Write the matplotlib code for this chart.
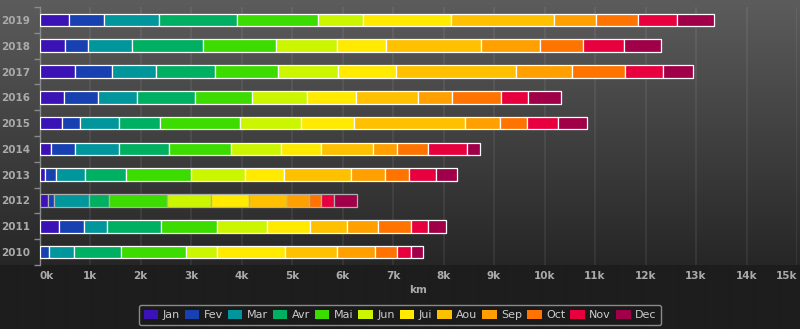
import matplotlib
matplotlib.use('Agg')
import matplotlib.pyplot as plt
import numpy as np
from matplotlib.patches import Patch

years = ['2010', '2011', '2012', '2013', '2014', '2015', '2016', '2017', '2018', '2019']
months = ['Jan', 'Fev', 'Mar', 'Avr', 'Mai', 'Jun', 'Jui', 'Aou', 'Sep', 'Oct', 'Nov', 'Dec']
colors = ['#3b12b5', '#1741b0', '#00969b', '#00b062', '#3cdc00', '#ccf600',
          '#ffea00', '#ffc000', '#ffa000', '#ff7400', '#e8003e', '#a00048']

km_2010 = [0, 194, 489, 930, 1280, 614, 1345, 1030, 764, 429, 291, 229]
km_2011 = [392, 483, 455, 1069, 1108, 989, 851, 733, 625, 661, 336, 349]
km_2012 = [174, 107, 705, 389, 1142, 883, 746, 758, 423, 238, 257, 475]
km_2013 = [109, 223, 574, 812, 1286, 1069, 760, 1326, 684, 475, 529, 421]
km_2014 = [222, 475, 876, 984, 1239, 989, 792, 1029, 469, 619, 772, 252]
km_2015 = [445, 362, 772, 812, 1583, 1195, 1055, 2211, 684, 542, 606, 574]
km_2016 = [479, 679, 777, 1148, 1128, 1083, 970, 1233, 672, 970, 542, 646]
km_2017 = [708, 727, 876, 1168, 1247, 1175, 1158, 2385, 1100, 1057, 744, 594]
km_2018 = [511, 455, 865, 1399, 1456, 1208, 963, 1894, 1160, 859, 803, 740]
km_2019 = [590, 692, 1089, 1538, 1597, 902, 1750, 2030, 839, 823, 766, 739]

x_ticks = list(range(0, 16000, 1000))
x_tick_labels = [f'{v // 1000}k' for v in x_ticks]

data = np.array([km_2010, km_2011, km_2012, km_2013, km_2014,
                 km_2015, km_2016, km_2017, km_2018, km_2019], dtype=float)

W, H = 800, 329
fig = plt.figure(figsize=(W / 100, H / 100), dpi=100)

# background gradient
bg = fig.add_axes([0, 0, 1, 1], zorder=-10)
top = np.array([0x5c, 0x5c, 0x5c]) / 255
bot = np.array([0x26, 0x26, 0x26]) / 255
img = np.zeros((H, 1, 3))
band = 265
for r in range(H):
    if r < band:
        t = r / band
        img[r, 0] = top * (1 - t) + bot * t
    else:
        img[r, 0] = np.array([0x1d, 0x1d, 0x1d]) / 255
bg.imshow(img, aspect='auto', extent=[0, 1, 0, 1], interpolation='bilinear')
bg.axis('off')

ax = fig.add_axes([39.5 / W, 1 - 265 / H, (797 - 39.5) / W, (265 - 7) / H])
ax.set_facecolor('none')

ypos = np.arange(len(years))
left = np.zeros(len(years))
for j, m in enumerate(months):
    vals = data[:, j]
    edgecols = ['#b0b0b0' if y == '2012' else 'white' for y in years]
    ax.barh(ypos, vals, left=left, height=0.49, color=colors[j],
            edgecolor=edgecols, linewidth=0.9, zorder=3)
    left += vals

ax.set_xlim(0, 15000)
ax.set_ylim(-0.5, len(years) - 0.5)
ax.set_yticks(ypos)
ax.set_yticklabels(years, fontsize=7.5, fontweight='bold', color='#aaaaaa')
ax.set_yticks(np.arange(-0.5, len(years), 1.0), minor=True)
ax.tick_params(axis='y', which='major', length=0, pad=7)
ax.tick_params(axis='y', which='minor', length=4, color='#8a8a8a', width=1)

ax.set_xticks(x_ticks)
ax.set_xticklabels(x_tick_labels, fontsize=7.5, fontweight='bold', color='#aaaaaa')
ax.tick_params(axis='x', length=0, pad=4)
lbls = ax.get_xticklabels()
lbls[-1].set_horizontalalignment('right')
lbls[0].set_horizontalalignment('left')
ax.grid(axis='x', color='#ffffff', alpha=0.08, linewidth=1.2, zorder=0)
ax.set_axisbelow(True)

for s in ['top', 'right', 'bottom']:
    ax.spines[s].set_visible(False)
ax.spines['left'].set_color('#8a8a8a')
ax.spines['left'].set_linewidth(1)

ax.set_xlabel('km', fontsize=7.5, fontweight='bold', color='#aaaaaa', labelpad=3)

handles = [Patch(facecolor=c, edgecolor='none', label=m) for c, m in zip(colors, months)]
leg = fig.legend(handles=handles, loc='center', bbox_to_anchor=(400 / W, 1 - 315 / H),
                 ncol=12, frameon=True, fontsize=8, handlelength=1.3, handleheight=0.9,
                 handletextpad=0.4, columnspacing=0.45, borderpad=0.45, fancybox=True,
                 borderaxespad=0)
frame = leg.get_frame()
frame.set_facecolor('#1a1a1a')
frame.set_edgecolor('#8a8a8a')
frame.set_linewidth(1)
frame.set_alpha(1)
for t in leg.get_texts():
    t.set_color('#cccccc')

fig.savefig('out.png', dpi=100)
